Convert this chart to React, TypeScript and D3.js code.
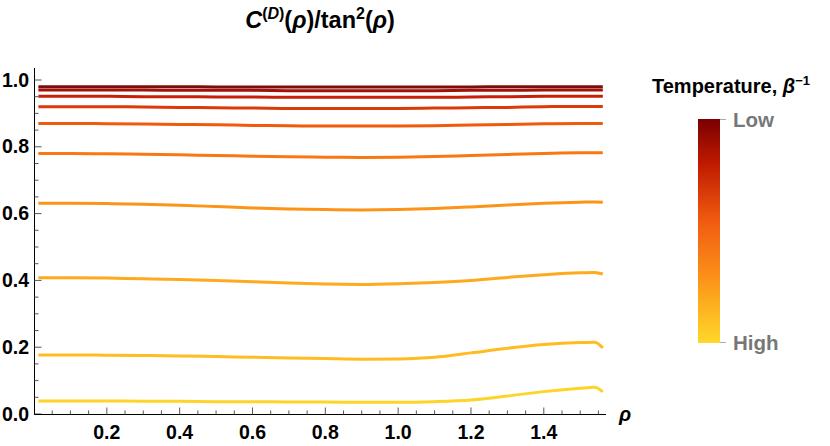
import React from "react";
import * as d3 from "d3";

// sample points along rho
const rho = [0.012, 0.1, 0.2, 0.3, 0.4, 0.5, 0.6, 0.7, 0.8, 0.9, 1.0, 1.1, 1.2, 1.3, 1.4, 1.5, 1.54, 1.562];

// curves, lowest temperature first
const s1 = [0.98, 0.98, 0.98, 0.98, 0.98, 0.979, 0.979, 0.979, 0.979, 0.979, 0.979, 0.979, 0.979, 0.98, 0.98, 0.98, 0.98, 0.98];
const s2 = [0.97, 0.97, 0.97, 0.97, 0.969, 0.969, 0.969, 0.968, 0.968, 0.968, 0.968, 0.968, 0.969, 0.969, 0.97, 0.97, 0.97, 0.97];
const s3 = [0.951, 0.951, 0.951, 0.95, 0.95, 0.949, 0.949, 0.948, 0.948, 0.948, 0.948, 0.948, 0.949, 0.95, 0.951, 0.951, 0.951, 0.951];
const s4 = [0.92, 0.92, 0.92, 0.919, 0.918, 0.917, 0.916, 0.915, 0.915, 0.915, 0.915, 0.916, 0.917, 0.918, 0.92, 0.921, 0.921, 0.921];
const s5 = [0.87, 0.87, 0.869, 0.868, 0.867, 0.866, 0.864, 0.863, 0.862, 0.862, 0.862, 0.863, 0.865, 0.867, 0.869, 0.87, 0.87, 0.87];
const s6 = [0.78, 0.78, 0.779, 0.778, 0.776, 0.774, 0.772, 0.77, 0.769, 0.768, 0.769, 0.771, 0.774, 0.777, 0.78, 0.782, 0.782, 0.782];
const s7 = [0.631, 0.631, 0.63, 0.628, 0.625, 0.621, 0.617, 0.614, 0.612, 0.611, 0.612, 0.615, 0.62, 0.626, 0.631, 0.634, 0.635, 0.634];
const s8 = [0.408, 0.408, 0.407, 0.405, 0.403, 0.4, 0.396, 0.392, 0.389, 0.388, 0.39, 0.394, 0.4, 0.409, 0.417, 0.423, 0.424, 0.419];
const s9 = [0.177, 0.177, 0.176, 0.175, 0.174, 0.172, 0.17, 0.168, 0.166, 0.164, 0.165, 0.17, 0.183, 0.197, 0.208, 0.214, 0.215, 0.198];
const s10 = [0.039, 0.039, 0.039, 0.038, 0.038, 0.037, 0.037, 0.036, 0.036, 0.035, 0.035, 0.037, 0.042, 0.054, 0.067, 0.077, 0.08, 0.066];

const series = [s1, s2, s3, s4, s5, s6, s7, s8, s9, s10];
const lineColors = ["#7f0c0c", "#a01208", "#c82008", "#dc3a08", "#f05a0c", "#fa7814", "#fc9418", "#feaa1e", "#ffbc22", "#ffd428"];

const yTickLabels = [0, 0.2, 0.4, 0.6, 0.8, 1.0];
const xTickLabels = [0.2, 0.4, 0.6, 0.8, 1.0, 1.2, 1.4];

const gradStops = [
  { o: 0, c: "#7a0000" },
  { o: 0.2, c: "#c01a00" },
  { o: 0.45, c: "#f05a10" },
  { o: 0.7, c: "#fb9018" },
  { o: 1, c: "#ffd82a" },
];

const W = 830;
const H = 446;
const FONT = "'Liberation Sans', Arial, sans-serif";

export default function App() {
  const x = d3.scaleLinear().domain([0, Math.PI / 2]).range([34, 606]);
  const y = d3.scaleLinear().domain([0, 1]).range([414, 80]);

  const line = d3
    .line<number>()
    .x((_, i) => x(rho[i]))
    .y((d) => y(d))
    .curve(d3.curveMonotoneX);

  const yMinor = d3.range(0, 21).map((i) => i * 0.05);
  const xMinor = d3.range(1, 32).map((i) => i * 0.05);

  return (
    <svg
      width={W}
      height={H}
      style={{ position: "absolute", left: 0, top: 0, background: "#fff" }}
      fontFamily={FONT}
    >
      <defs>
        <linearGradient id="tempGrad" x1="0" y1="0" x2="0" y2="1">
          {gradStops.map((s) => (
            <stop key={s.o} offset={s.o} stopColor={s.c} />
          ))}
        </linearGradient>
        <clipPath id="plotClip">
          <rect x={35} y={60} width={575} height={354} />
        </clipPath>
      </defs>

      {/* title */}
      <text x={320} y={28} textAnchor="middle" fontSize={23.5} fontWeight="bold">
        <tspan fontStyle="italic">C</tspan>
        <tspan dy={-9} fontSize={16}>(</tspan>
        <tspan fontSize={16} fontStyle="italic">D</tspan>
        <tspan fontSize={16}>)</tspan>
        <tspan dy={9}>(</tspan>
        <tspan fontStyle="italic">ρ</tspan>
        <tspan>)/tan</tspan>
        <tspan dy={-9} fontSize={16}>2</tspan>
        <tspan dy={9}>(</tspan>
        <tspan fontStyle="italic">ρ</tspan>
        <tspan>)</tspan>
      </text>

      {/* curves */}
      <g clipPath="url(#plotClip)">
        {series.map((s, i) => (
          <path
            key={i}
            d={line(s) || ""}
            fill="none"
            stroke={lineColors[i]}
            strokeWidth={3}
            strokeLinejoin="round"
          />
        ))}
      </g>

      {/* y axis */}
      <line x1={34.5} x2={34.5} y1={68} y2={414} stroke="#000" strokeWidth={1} />
      {yMinor.map((v, i) => (
        <line
          key={i}
          x1={34.5}
          x2={34.5 + (i % 4 === 0 ? 7 : 4)}
          y1={y(v)}
          y2={y(v)}
          stroke="#555"
          strokeWidth={1}
        />
      ))}
      {yTickLabels.map((v) => (
        <text key={v} x={29} y={y(v) + 6.5} textAnchor="end" fontSize={19.5} fontWeight="bold">
          {v.toFixed(1)}
        </text>
      ))}

      {/* x axis */}
      <line x1={34} x2={606} y1={414.5} y2={414.5} stroke="#000" strokeWidth={1} />
      {xMinor.map((v, i) => (
        <line
          key={i}
          x1={x(v)}
          x2={x(v)}
          y1={414.5}
          y2={414.5 - ((i + 1) % 4 === 0 ? 7 : 4)}
          stroke="#555"
          strokeWidth={1}
        />
      ))}
      {xTickLabels.map((v) => (
        <text key={v} x={x(v)} y={439} textAnchor="middle" fontSize={19.5} fontWeight="bold">
          {v.toFixed(1)}
        </text>
      ))}
      <text x={619} y={421} fontSize={20} fontWeight="bold" fontStyle="italic">
        ρ
      </text>

      {/* legend */}
      <text x={652} y={93} fontSize={20} fontWeight="bold">
        Temperature,{" "}
        <tspan fontStyle="italic">β</tspan>
        <tspan dy={-8} fontSize={13}>−1</tspan>
      </text>
      <rect x={698} y={119} width={22} height={224} fill="url(#tempGrad)" />
      <line x1={720} x2={726} y1={119.5} y2={119.5} stroke="#aaa" />
      <line x1={720} x2={726} y1={342.5} y2={342.5} stroke="#aaa" />
      <text x={733} y={127} fontSize={20.5} fontWeight="bold" fill="#777">
        Low
      </text>
      <text x={733} y={350} fontSize={20.5} fontWeight="bold" fill="#777">
        High
      </text>
    </svg>
  );
}
